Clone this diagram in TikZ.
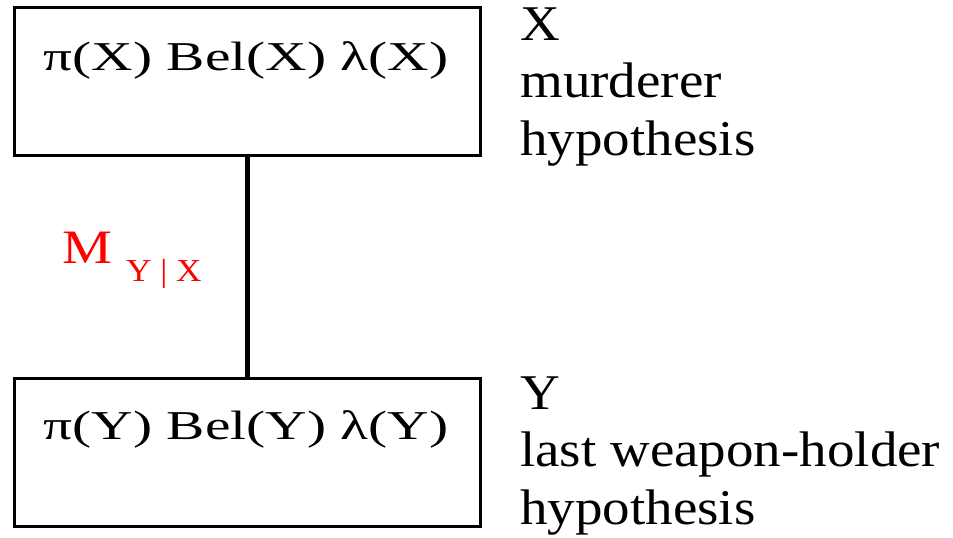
\documentclass[tikz,border=0pt]{standalone}
\usepackage{fontspec}
\setmainfont{Liberation Serif}
\begin{document}
\begin{tikzpicture}[x=1pt,y=-1pt,
  boxnode/.style={draw=black,line width=3pt,minimum width=466pt,minimum height=148pt,inner sep=0pt},
  boxtext/.style={inner sep=0pt,anchor=base,xscale=1.4,font=\fontsize{41}{45}\selectfont},
  sidetext/.style={inner sep=0pt,anchor=base west,align=left,xscale=1.1,font=\fontsize{50}{57.5}\selectfont},
  link/.style={line width=5pt}]
\useasboundingbox (0,0) rectangle (953,538);
\node[boxnode] (topbox) at (247.5,81.5) {};
\node[boxnode] (botbox) at (247.5,452) {};
\node[boxtext] (toptext) at (246,70) {π(X) Bel(X) λ(X)};
\node[boxtext] (bottext) at (246,439) {π(Y) Bel(Y) λ(Y)};
\draw[link] (topbox.south) -- (botbox.north);
\node[inner sep=0pt,anchor=base west,text=red] (mlabel) at (62,263)
  {\fontsize{48}{48}\selectfont\scalebox{1.17}[1]{M}\hspace{14pt}\raisebox{-18pt}{\fontsize{32}{32}\selectfont\scalebox{1.1}[1]{Y | X}}};
\node[sidetext] (xlabel) at (520,155) {X\\murderer\\hypothesis};
\node[sidetext] (ylabel) at (520,524) {Y\\last weapon-holder\\hypothesis};
\end{tikzpicture}
\end{document}
